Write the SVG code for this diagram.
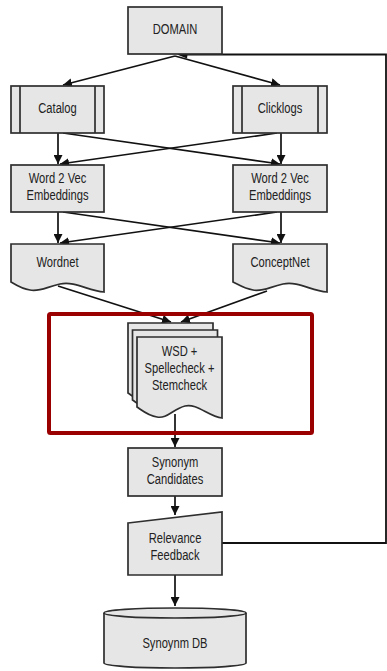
<svg xmlns="http://www.w3.org/2000/svg" width="387" height="671" viewBox="0 0 387 671">
  <defs>
    <marker id="arrow" viewBox="0 0 10 10" refX="10" refY="5" markerWidth="9" markerHeight="9" markerUnits="userSpaceOnUse" orient="auto">
      <path d="M0,0 L10,5 L0,10 Z" fill="#111"/>
    </marker>
    <!-- document page with a wavy bottom edge, 85 wide -->
    <path id="page" d="M0,0 H85 V81 C72,80 60,66 48,69 C36,72 30,82 20,80 C12,79 6,74 0,70 Z"/>
  </defs>
  <style>
    .box { fill: #e6e6e6; stroke: #2e2e2e; stroke-width: 1.7; }
    .bar { fill: none; stroke: #2e2e2e; stroke-width: 1.7; }
    .edge { fill: none; stroke: #111; stroke-width: 1.7; marker-end: url(#arrow); }
    .loop { fill: none; stroke: #111; stroke-width: 1.8; }
    .hl { fill: none; stroke: #9b0000; stroke-width: 4; }
    text { font-family: "Liberation Sans", Arial, sans-serif; font-size: 14.5px; fill: #222; text-anchor: middle; }
  </style>

  <!-- connectors -->
  <g id="connectors">
    <line class="edge" x1="175" y1="56" x2="63" y2="85"/>
    <line class="edge" x1="175" y1="56" x2="280" y2="85"/>
    <line class="edge" x1="58" y1="133" x2="58" y2="164"/>
    <line class="edge" x1="281" y1="133" x2="281" y2="164"/>
    <line class="edge" x1="63" y1="133" x2="280" y2="164"/>
    <line class="edge" x1="277" y1="133" x2="60" y2="164"/>
    <line class="edge" x1="58" y1="212" x2="58" y2="243"/>
    <line class="edge" x1="281" y1="212" x2="281" y2="243"/>
    <line class="edge" x1="63" y1="212" x2="280" y2="243"/>
    <line class="edge" x1="277" y1="212" x2="60" y2="243"/>
    <line class="edge" x1="58" y1="286" x2="171" y2="322"/>
    <line class="edge" x1="267" y1="291" x2="181" y2="322"/>
    <line class="edge" x1="175" y1="414" x2="175" y2="447"/>
    <line class="edge" x1="175" y1="496" x2="175" y2="515"/>
    <line class="edge" x1="175" y1="575" x2="175" y2="606"/>
    <path class="loop" d="M222,543 H386 V54.5 H185"/>
    <path d="M177,54.5 L188,50 L187,58.5 Z" fill="#111"/>
  </g>

  <g id="domain">
    <rect class="box" x="128" y="7" width="94" height="47"/>
    <text transform="translate(175 34) scale(0.77 1)">DOMAIN</text>
  </g>

  <g id="catalog">
    <rect class="box" x="11" y="86" width="93" height="47"/>
    <line class="bar" x1="20" y1="86" x2="20" y2="133"/>
    <line class="bar" x1="95" y1="86" x2="95" y2="133"/>
    <text transform="translate(57.5 113) scale(0.77 1)">Catalog</text>
  </g>

  <g id="clicklogs">
    <rect class="box" x="233" y="86" width="94" height="47"/>
    <line class="bar" x1="242" y1="86" x2="242" y2="133"/>
    <line class="bar" x1="318" y1="86" x2="318" y2="133"/>
    <text transform="translate(280 113) scale(0.77 1)">Clicklogs</text>
  </g>

  <g id="w2v-left">
    <rect class="box" x="11" y="165" width="93" height="47"/>
    <text transform="translate(57.5 183) scale(0.77 1)">Word 2 Vec</text>
    <text transform="translate(57.5 199.5) scale(0.77 1)">Embeddings</text>
  </g>

  <g id="w2v-right">
    <rect class="box" x="233" y="165" width="94" height="47"/>
    <text transform="translate(280 183) scale(0.77 1)">Word 2 Vec</text>
    <text transform="translate(280 199.5) scale(0.77 1)">Embeddings</text>
  </g>

  <g id="wordnet">
    <path class="box" d="M11,244 H104 V292 C88,291 76,281 60,284 C46,287 40,292 30,290 C22,289 16,285 11,282 Z"/>
    <text transform="translate(57.5 267) scale(0.77 1)">Wordnet</text>
  </g>

  <g id="conceptnet">
    <path class="box" d="M233,244 H327 V292 C311,291 299,281 283,284 C269,287 263,292 253,290 C245,289 239,285 233,282 Z"/>
    <text transform="translate(280 267) scale(0.77 1)">ConceptNet</text>
  </g>

  <g id="wsd">
    <use href="#page" class="box" x="128" y="323"/>
    <use href="#page" class="box" x="132.5" y="330"/>
    <use href="#page" class="box" x="137" y="337"/>
    <text transform="translate(179.5 356) scale(0.77 1)">WSD +</text>
    <text transform="translate(179.5 373) scale(0.77 1)">Spellecheck +</text>
    <text transform="translate(179.5 390) scale(0.77 1)">Stemcheck</text>
  </g>

  <rect id="focus" class="hl" x="49" y="314" width="263" height="119" rx="1.5"/>

  <g id="candidates">
    <rect class="box" x="128" y="448" width="94" height="48"/>
    <text transform="translate(175 467) scale(0.77 1)">Synonym</text>
    <text transform="translate(175 484) scale(0.77 1)">Candidates</text>
  </g>

  <g id="feedback">
    <path class="box" d="M128,523 L222,512 V575 H128 Z"/>
    <text transform="translate(175 543) scale(0.77 1)">Relevance</text>
    <text transform="translate(175 560) scale(0.77 1)">Feedback</text>
  </g>

  <g id="synonym-db">
    <path class="box" d="M104,613 V663 A71,5 0 0 0 246,663 V613"/>
    <ellipse class="box" cx="175" cy="613" rx="71" ry="5"/>
    <text transform="translate(175 648) scale(0.77 1)">Synoynm DB</text>
  </g>
</svg>
